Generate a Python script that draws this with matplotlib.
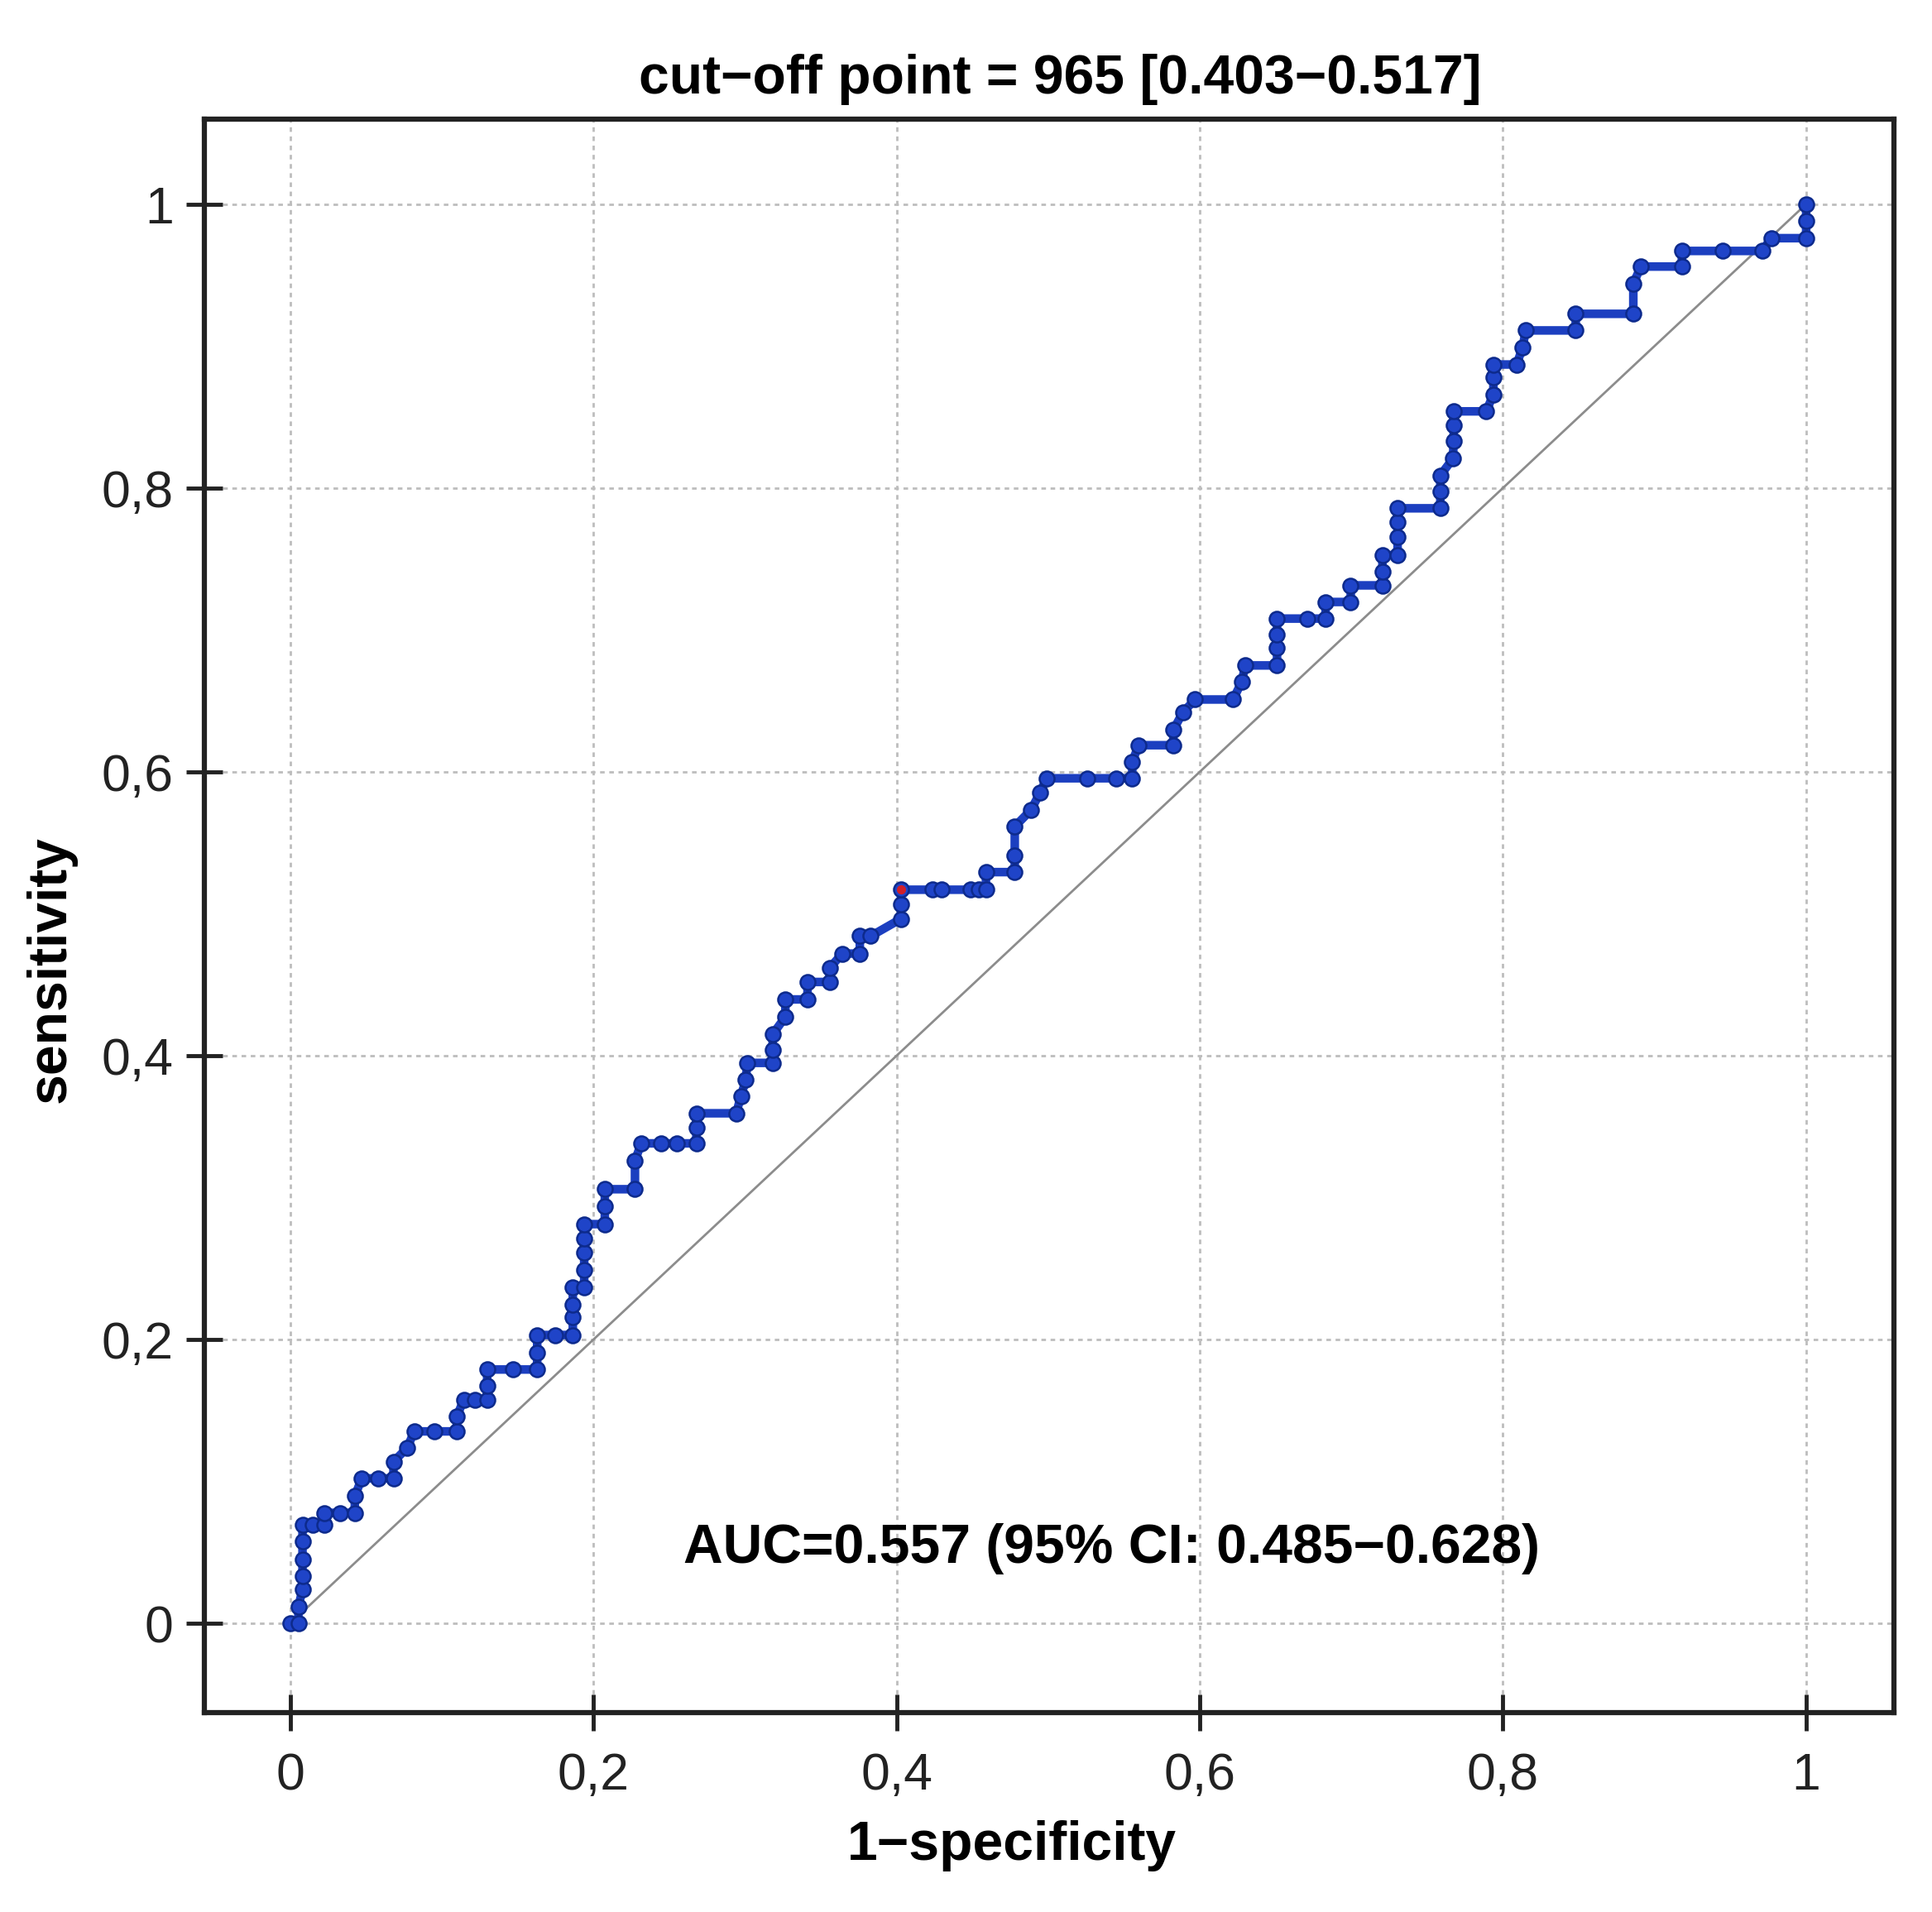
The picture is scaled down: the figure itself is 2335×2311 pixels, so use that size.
import matplotlib
matplotlib.use('Agg')
from matplotlib import pyplot as plt

# ROC curve points (1-specificity, sensitivity)
fpr = [0.0, 0.0055, 0.0055, 0.0082, 0.0082, 0.0082, 0.0082, 0.0082, 0.015, 0.0228,
       0.0228, 0.033, 0.0427, 0.0427, 0.0473, 0.058, 0.0682, 0.0682, 0.0773, 0.0819,
       0.095, 0.110, 0.110, 0.1146, 0.122, 0.130, 0.130, 0.130, 0.147, 0.163,
       0.163, 0.163, 0.175, 0.1865, 0.1865, 0.1865, 0.1865, 0.194, 0.194, 0.194,
       0.194, 0.194, 0.2076, 0.2076, 0.2076, 0.2275, 0.2275, 0.2316, 0.245, 0.255,
       0.268, 0.268, 0.268, 0.2943, 0.2974, 0.3006, 0.3016, 0.3183, 0.3183, 0.3183,
       0.3267, 0.3267, 0.3413, 0.3413, 0.356, 0.356, 0.3643, 0.3758, 0.3758, 0.383,
       0.403, 0.403, 0.403, 0.424, 0.430, 0.449, 0.4545, 0.459, 0.459, 0.478,
       0.478, 0.478, 0.4886, 0.4949, 0.499, 0.526, 0.545, 0.5555, 0.5555, 0.5597,
       0.5826, 0.5826, 0.589, 0.597, 0.622, 0.6277, 0.630, 0.651, 0.651, 0.651,
       0.651, 0.671, 0.683, 0.683, 0.6996, 0.6996, 0.7205, 0.7205, 0.7205, 0.7305,
       0.7305, 0.7305, 0.7305, 0.7587, 0.7587, 0.7587, 0.767, 0.7675, 0.7675, 0.7675,
       0.789, 0.7937, 0.7937, 0.7937, 0.809, 0.813, 0.815, 0.848, 0.848, 0.886,
       0.886, 0.891, 0.918, 0.918, 0.945, 0.971, 0.977, 1.0, 1.0, 1.0]
tpr = [0.0, 0.0, 0.012, 0.024, 0.0334, 0.045, 0.0577, 0.0693, 0.0693, 0.0693,
       0.078, 0.078, 0.078, 0.0897, 0.1023, 0.1023, 0.1023, 0.114, 0.1238, 0.1354,
       0.1354, 0.1354, 0.146, 0.1577, 0.1577, 0.1577, 0.1673, 0.179, 0.179, 0.179,
       0.1906, 0.2033, 0.2033, 0.2033, 0.2157, 0.2246, 0.2369, 0.2369, 0.249, 0.2614,
       0.2714, 0.2814, 0.2814, 0.2938, 0.306, 0.306, 0.326, 0.3383, 0.3383, 0.3383,
       0.3383, 0.3494, 0.3595, 0.3595, 0.3717, 0.3829, 0.395, 0.395, 0.404, 0.4151,
       0.4274, 0.4397, 0.4397, 0.452, 0.452, 0.462, 0.472, 0.472, 0.4843, 0.4843,
       0.4965, 0.507, 0.517, 0.517, 0.517, 0.517, 0.517, 0.517, 0.5294, 0.5294,
       0.541, 0.5615, 0.573, 0.5857, 0.5955, 0.5955, 0.5955, 0.5955, 0.607, 0.6188,
       0.6188, 0.6296, 0.6421, 0.651, 0.651, 0.6634, 0.675, 0.675, 0.6877, 0.6965,
       0.708, 0.708, 0.708, 0.7197, 0.7197, 0.7314, 0.7314, 0.741, 0.7527, 0.7527,
       0.7653, 0.776, 0.7857, 0.7857, 0.7973, 0.8089, 0.8206, 0.833, 0.844, 0.854,
       0.854, 0.866, 0.878, 0.887, 0.887, 0.899, 0.911, 0.911, 0.9227, 0.9227,
       0.944, 0.956, 0.956, 0.967, 0.967, 0.967, 0.976, 0.976, 0.988, 1.0]

cutoff_fpr = 0.403
cutoff_tpr = 0.517

ticks = [0, 0.2, 0.4, 0.6, 0.8, 1]
tick_labels = ['0', '0,2', '0,4', '0,6', '0,8', '1']

title_text = 'cut\u2212off point = 965 [0.403\u22120.517]'
auc_text = 'AUC=0.557 (95% CI: 0.485\u22120.628)'
x_label = '1\u2212specificity'
y_label = 'sensitivity'

bold_font = ['Liberation Sans', 'DejaVu Sans']
tick_font = ['Liberation Sans', 'DejaVu Sans']
dark = '#222222'

fig = plt.figure(figsize=(23.35, 23.11), dpi=100)
ax = fig.add_axes([0.1058, 0.1043, 0.8745, 0.8332])

ax.set_xlim(-0.0565, 1.0579)
ax.set_ylim(-0.0627, 1.0596)

ax.set_axisbelow(True)
ax.grid(True, color='#bdbdbd', lw=2.0, linestyle=(0, (2, 2)))

# reference diagonal
ax.plot([0, 1], [0, 1], color='#8c8c8c', lw=2.0, zorder=2)

# ROC curve
ax.plot(fpr, tpr, color='#1c3fc0', lw=7.5, marker='o', ms=13,
        mfc='#1f44c8', mec='#0d2a8c', mew=1.8, zorder=3)
ax.plot(cutoff_fpr, cutoff_tpr, 'o', color='#d0202a', ms=7, zorder=4)

for s in ax.spines.values():
    s.set_linewidth(4.5)
    s.set_color(dark)

ax.set_xticks(ticks)
ax.set_yticks(ticks)
ax.set_xticklabels(tick_labels, family=tick_font, fontsize=45, color=dark)
ax.set_yticklabels(tick_labels, family=tick_font, fontsize=45, color=dark)
ax.tick_params(direction='inout', length=32, width=3.5, color=dark)
ax.tick_params(axis='x', pad=18)
ax.tick_params(axis='y', pad=11)

ax.text(0.5064, 1.0163, title_text, transform=ax.transAxes, ha='center',
        va='baseline', fontsize=47.5, fontweight='bold', family=bold_font)
ax.text(0.478, -0.0925, x_label, transform=ax.transAxes, ha='center',
        va='baseline', fontsize=47.5, fontweight='bold', family=bold_font)
ax.text(-0.0906, 0.4668, y_label, transform=ax.transAxes, ha='center',
        va='center', rotation=90, fontsize=47.5, fontweight='bold', family=bold_font)
ax.text(0.5418, 0.0427, auc_text, ha='center', va='baseline',
        fontsize=47.5, fontweight='bold', family=bold_font)

fig.savefig('out.png', dpi=100)
